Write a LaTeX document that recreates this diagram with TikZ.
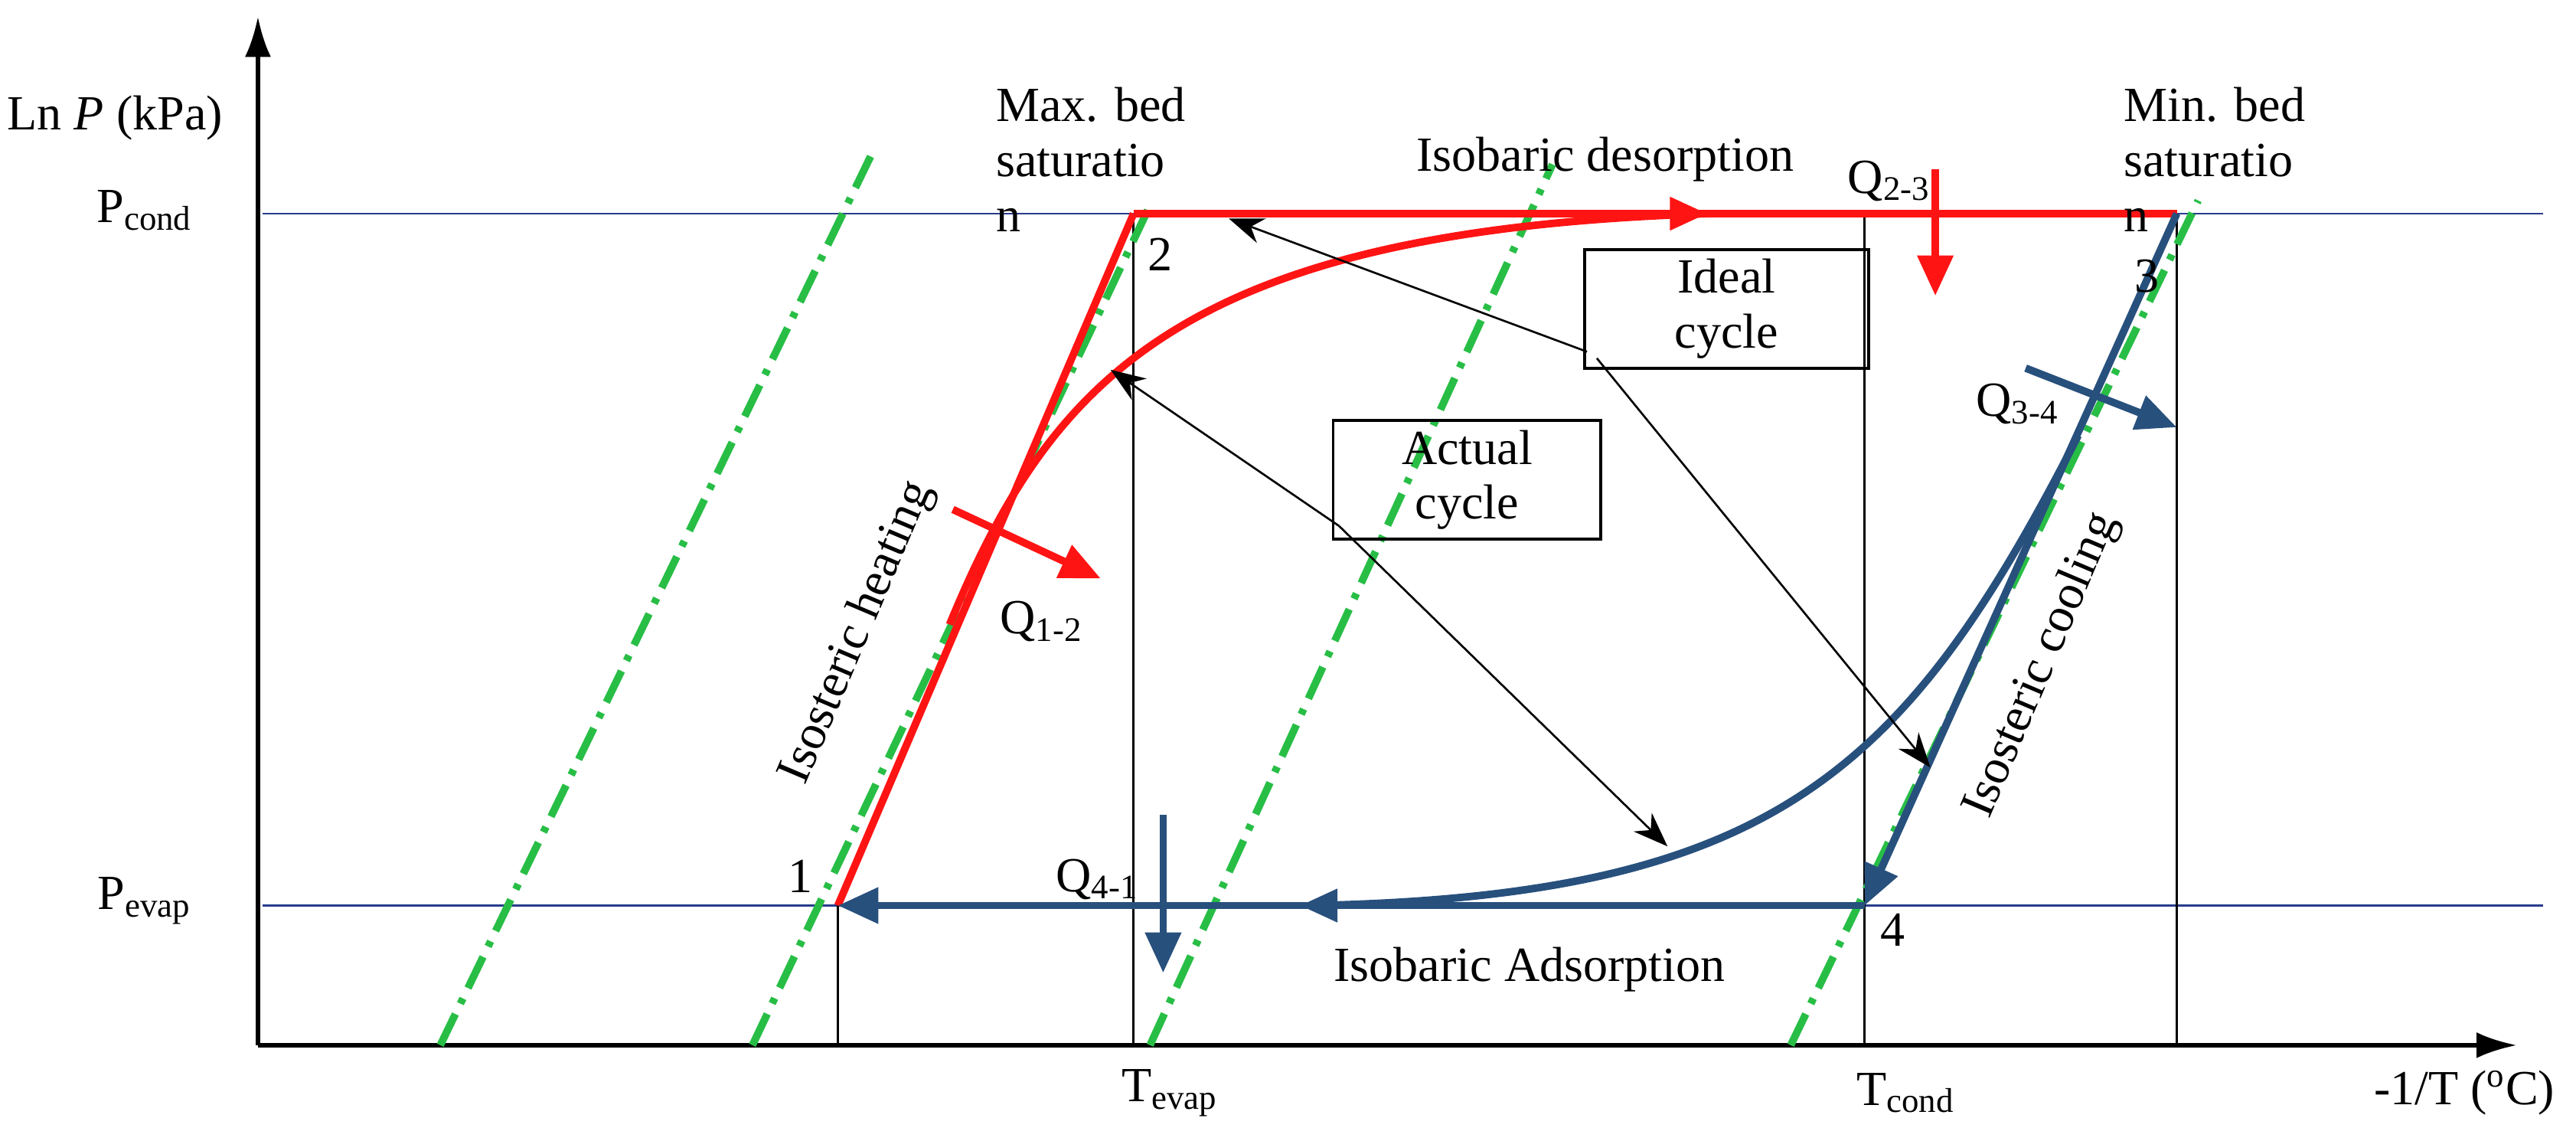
\documentclass[tikz,border=0pt]{standalone}
\usepackage{fontspec}
\setmainfont{Liberation Serif}
\usetikzlibrary{arrows.meta,decorations.markings}
\definecolor{rd}{RGB}{255,20,20}
\definecolor{bl}{RGB}{40,80,125}
\definecolor{gr}{RGB}{40,190,70}
\definecolor{ln}{RGB}{40,60,140}
\begin{document}
\begin{tikzpicture}[x=0.02cm,y=-0.02cm,font=\fontsize{17}{19}\selectfont,
 ax/.style={line width=1.6pt,-{Latex[length=14pt,width=9pt]}},
 thin/.style={line width=0.7pt},
 green/.style={gr,line width=2.6pt,dash pattern=on 12pt off 4pt on 2pt off 4pt},
 red/.style={rd,line width=2.6pt},
 blue/.style={bl,line width=2.6pt},
 tip/.style={-{Triangle[length=14pt,width=12pt]}},
 pt/.style={thin,-{Stealth[length=12pt,width=9pt]}},
 midarrow/.style={postaction={decorate},decoration={markings,mark=at position #1 with {\arrow{Triangle[length=13pt,width=11pt]}}}},
 lab/.style={inner sep=1pt},
 box/.style={draw,line width=1pt,minimum width=3.46cm,minimum height=1.2cm,align=center}]
\useasboundingbox (0,0) rectangle (1568,694);
% axes
\coordinate (O) at (157,636);
\coordinate (Ytop) at (157,10);
\coordinate (Xend) at (1532,636);
\draw[ax] (O) -- (Ytop);
\draw[ax] (O) -- (Xend);
% pressure lines
\coordinate (pc0) at (160,130); \coordinate (pc1) at (1548,130);
\coordinate (pe0) at (160,551); \coordinate (pe1) at (1548,551);
\draw[ln,thin] (pc0) -- (pc1);
\draw[ln,thin] (pe0) -- (pe1);
% points
\coordinate (p1) at (510,551); \coordinate (p2) at (690,130);
\coordinate (p3) at (1325,130); \coordinate (p4) at (1135,551);
\coordinate (b1) at (510,636); \coordinate (b2) at (690,636);
\coordinate (b3) at (1325,636); \coordinate (b4) at (1135,636);
\coordinate (t4) at (1135,130);
\draw[thin] (p1) -- (b1); \draw[thin] (p2) -- (b2);
\draw[thin] (t4) -- (b4); \draw[thin] (p3) -- (b3);
% green lines
\coordinate (g1a) at (268,636); \coordinate (g1b) at (530,95);
\coordinate (g2a) at (458,636); \coordinate (g2b) at (700,125);
\coordinate (g3a) at (700,636); \coordinate (g3b) at (945,100);
\coordinate (g4a) at (1090,636); \coordinate (g4b) at (1338,122);
\draw[green] (g1a) -- (g1b); \draw[green] (g2a) -- (g2b);
\draw[green] (g3a) -- (g3b); \draw[green] (g4a) -- (g4b);
% red ideal
\draw[red] (p1) -- (p2);
\draw[red,midarrow=0.55] (p2) -- (p3);
% red actual curve
\coordinate (rc0) at (578,380); \coordinate (rc1) at (1040,130);
\draw[red] (rc0) .. controls (640,230) and (720,140) .. (rc1);
% blue
\draw[blue,tip] (p3) -- (p4);
\draw[blue,tip,midarrow=0.55] (p4) -- (p1);
\coordinate (bc0) at (1265,265); \coordinate (bc1) at (800,551);
\draw[blue] (bc0) .. controls (1160,470) and (1080,545) .. (bc1);
% Q arrows
\coordinate (q12a) at (580,310); \coordinate (q12b) at (670,352);
\draw[red,tip] (q12a) -- (q12b);
\coordinate (q23a) at (1178,103); \coordinate (q23b) at (1178,180);
\draw[red,tip] (q23a) -- (q23b);
\coordinate (q34a) at (1233,224); \coordinate (q34b) at (1325,260);
\draw[blue,tip] (q34a) -- (q34b);
\coordinate (q41a) at (708,496); \coordinate (q41b) at (708,592);
\draw[blue,tip] (q41a) -- (q41b);
% boxes
\node[box] (ideal) at (1051,188) {Ideal\\cycle};
\node[box,minimum width=3.26cm] (actual) at (893,292) {Actual\\cycle};
\coordinate (ai1) at (748,133); \coordinate (ai2) at (1175,467);
\coordinate (aa1) at (676,225); \coordinate (aa2) at (1015,515);
\coordinate (is1) at (966,214); \coordinate (is2) at (972,218);
\coordinate (as1) at (815,320);
\draw[pt] (is1) -- (ai1);
\draw[pt] (is2) -- (ai2);
\draw[pt] (as1) -- (aa1);
\draw[pt] (as1) -- (aa2);
% labels
\node[lab] (lnp) at (70,72) {Ln \textit{P} (kPa)};
\node[lab] (pcond) at (88,128) {P\textsubscript{cond}};
\node[lab] (pevap) at (88,548) {P\textsubscript{evap}};
\node[lab,align=left] (maxb) at (664,97) {Max. bed\\saturatio\\n};
\node[lab] (isod) at (977,97) {Isobaric desorption};
\node[lab] (q23) at (1150,110) {Q\textsubscript{2-3}};
\node[lab,align=left] (minb) at (1348,97) {Min. bed\\saturatio\\n};
\node[lab] (n2) at (706,155) {2};
\node[lab] (n3) at (1307,168) {3};
\node[lab] (n1) at (487,533) {1};
\node[lab] (n4) at (1152,566) {4};
\node[lab] (q34) at (1228,246) {Q\textsubscript{3-4}};
\node[lab] (q12) at (634,378) {Q\textsubscript{1-2}};
\node[lab] (q41) at (668,535) {Q\textsubscript{4-1}};
\node[lab,rotate=67] (ih) at (522,385) {Isosteric heating};
\node[lab,rotate=67] (ic) at (1243,405) {Isosteric cooling};
\node[lab] (ia) at (931,590) {Isobaric Adsorption};
\node[lab] (tev) at (712,665) {T\textsubscript{evap}};
\node[lab] (tco) at (1160,665) {T\textsubscript{cond}};
\node[lab] (xl) at (1500,665) {-1/T (\textsuperscript{o}C)};
\end{tikzpicture}
\end{document}
